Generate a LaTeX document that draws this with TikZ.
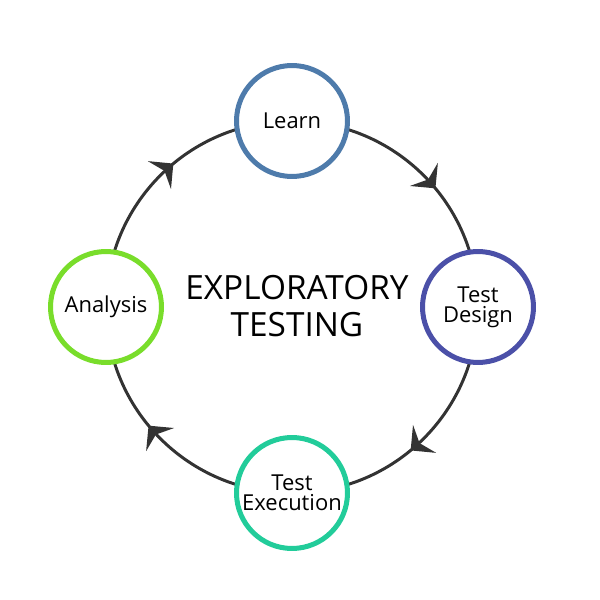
\documentclass[tikz,border=0pt]{standalone}
\usepackage{fontspec}
\setmainfont{Open Sans}
\usetikzlibrary{arrows.meta,decorations.markings,backgrounds,calc}
\definecolor{etDark}{HTML}{333333}
\definecolor{etLearn}{HTML}{4E7BAB}
\definecolor{etDesign}{HTML}{4B50A8}
\definecolor{etExec}{HTML}{22CC9A}
\definecolor{etAnalysis}{HTML}{79DD2B}
\tikzset{
  et stage/.style={circle, fill=white, line width=2.85pt, minimum size=2.22cm, inner sep=0pt,
    align=center, font=\fontsize{12.5}{11.5}\selectfont, text=black},
  et cycle/.style={draw=etDark, line width=1.7pt,
    postaction={decorate, decoration={markings, mark=at position 0.56 with
      {\arrow{Stealth[length=0.36cm, width=0.72cm, inset=0.13cm]}}}}},
  et title/.style={align=center, font=\fontsize{19}{21}\selectfont, text=black},
}
\begin{document}
\begin{tikzpicture}[x=0.02cm, y=0.02cm]
  \useasboundingbox (0,0) rectangle (600,600);
  \coordinate (hub) at (292,293);
  % Stages of the cycle
  \node[et stage, draw=etLearn]    (learn)    at ($(hub)+(90:186)$)  {Learn};
  \node[et stage, draw=etDesign]   (design)   at ($(hub)+(0:186)$)   {Test\\Design};
  \node[et stage, draw=etExec]     (exec)     at ($(hub)+(-90:186)$) {Test\\Execution};
  \node[et stage, draw=etAnalysis] (analysis) at ($(hub)+(180:186)$) {Analysis};
  \node[et title] (title) at ($(hub)+(5,1)$) {EXPLORATORY\\TESTING};
  % Connectors behind the stages, clockwise
  \begin{scope}[on background layer]
    \draw[et cycle] (learn.center) to[bend left=45] (design.center);
    \draw[et cycle] (design.center) to[bend left=45] (exec.center);
    \draw[et cycle] (exec.center) to[bend left=45] (analysis.center);
    \draw[et cycle] (analysis.center) to[bend left=45] (learn.center);
  \end{scope}
\end{tikzpicture}
\end{document}
